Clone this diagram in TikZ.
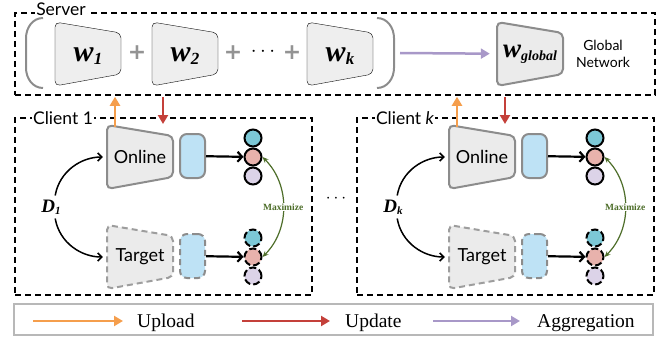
\documentclass[tikz,border=0pt]{standalone}
\usepackage{fontspec}
\setmainfont{Liberation Serif}
\setsansfont{Lato}
\newfontfamily\plusfont{DejaVu Sans}
\usetikzlibrary{calc, arrows.meta}

\definecolor{upcol}{HTML}{F59E4C}
\definecolor{dncol}{HTML}{C4403A}
\definecolor{aggcol}{HTML}{A898C8}
\definecolor{maxgreen}{HTML}{4E6E2A}
\definecolor{tealc}{HTML}{7CC8D6}
\definecolor{pinkc}{HTML}{E8B2AC}
\definecolor{lavc}{HTML}{DCD3E8}
\definecolor{projblue}{HTML}{BEE2F5}
\definecolor{netfill}{HTML}{EBEBEB}
\definecolor{wgray}{HTML}{EEEEEE}
\definecolor{boxgray}{HTML}{8C8C8C}
\definecolor{lgdgray}{HTML}{B8B8B8}

\tikzstyle{serverbox} = [rectangle, draw=black, line width=1.5pt, dash pattern=on 6pt off 4pt, minimum width=640pt, minimum height=82pt]
\tikzstyle{clientbox} = [rectangle, draw=black, line width=1.5pt, dash pattern=on 6pt off 4pt, minimum width=297pt, minimum height=177pt]
\tikzstyle{boxlabel} = [fill=white, inner sep=1.5pt, font=\sffamily\fontsize{17.5}{20}\selectfont]
\tikzstyle{encnode} = [minimum width=66pt, minimum height=64pt, inner sep=0pt, font=\sffamily\fontsize{18}{20}\selectfont]
\tikzstyle{encline} = [fill=netfill, draw=boxgray, line width=2pt, rounded corners=5pt]
\tikzstyle{tgtline} = [fill=netfill, draw=boxgray!85, line width=2pt, dash pattern=on 6pt off 4pt, rounded corners=5pt]
\tikzstyle{wfill} = [fill=wgray, rounded corners=5pt]
\tikzstyle{projbox} = [rectangle, rounded corners=7pt, minimum width=25pt, minimum height=44pt, fill=projblue, draw=boxgray, line width=2pt]
\tikzstyle{embed} = [circle, minimum size=17pt, inner sep=0pt, draw=black, line width=2pt]
\tikzstyle{bracket} = [draw=boxgray, line width=2pt]
\tikzstyle{plus} = [text=gray!85, font=\plusfont\bfseries\fontsize{22}{22}\selectfont]
\tikzstyle{netlabel} = [align=center, font=\sffamily\fontsize{14}{17}\selectfont]
\tikzstyle{legtext} = [anchor=base west, inner sep=0pt, font=\fontsize{19.5}{20}\selectfont]
\tikzstyle{arrow} = [line width=2.2pt, -{Straight Barb[length=4.5pt,width=10pt]}]
\tikzstyle{darrow} = [line width=1.5pt, -{Straight Barb[length=4pt,width=8pt]}]
\tikzstyle{uparrow} = [upcol, line width=2.5pt, -{Triangle[length=9pt,width=10pt]}]
\tikzstyle{dnarrow} = [dncol, line width=2.5pt, -{Triangle[length=9pt,width=10pt]}]
\tikzstyle{aggarrow} = [aggcol, line width=2.5pt, -{Triangle[length=9pt,width=10pt]}]
\tikzstyle{maxarrow} = [maxgreen, line width=1.2pt, {Stealth[length=6pt,width=5pt]}-{Stealth[length=6pt,width=5pt]}]
\tikzstyle{maxlabel} = [fill=white, inner sep=1pt, text=maxgreen, font=\bfseries\fontsize{9.5}{10}\selectfont]

% trapezoid of a network, #1 style, #2 centre
\newcommand{\netshape}[2]{%
  \draw[#1] ($(#2)+(-33,-32)$) -- ($(#2)+(33,-21)$) -- ($(#2)+(33,20)$) -- ($(#2)+(-33,32)$) -- cycle;}
% bold italic symbol with subscript
\newcommand{\wlabel}[4]{{\rmfamily\bfseries\itshape\fontsize{#1}{#1}\selectfont #3\raisebox{-0.12em}{\fontsize{#2}{#2}\selectfont #4}}}

\begin{document}
\begin{tikzpicture}[x=1pt, y=-1pt]
    \useasboundingbox (0,0) rectangle (661,337);

    % Server
    \node (srv) [serverbox] at (335,54) {};
    \node (srvlbl) [boxlabel] at (61,9) {Server};
    \draw[bracket] (43,18) to[out=180,in=90] (26,38) -- (26,68) to[out=-90,in=180] (43,88);
    \draw[bracket] (377,18) to[out=0,in=90] (394,38) -- (394,68) to[out=-90,in=0] (377,88);

    \foreach \nm/\x/\s in {wa/88/1, wb/185/2, wk/340/k} {
        \netshape{wfill}{\x,54}
        \node (\nm) at (\x,56) {\wlabel{30}{17}{w}{\s}};
    }
    \node (pa) [plus] at (137,53) {+};
    \node (pb) [plus] at (233,53) {+};
    \node (pc) [plus] at (292,53) {+};
    \node (dts) at (263,52) {\fontsize{20}{20}\selectfont$\cdots$};

    % Global network
    \coordinate (agg) at (400,53);
    \netshape{encline}{530,54}
    \node (wg) [encnode] at (530,54) {\wlabel{27}{14}{w}{global}};
    \node (glob) [netlabel] at (603,54) {Global\\Network};
    \draw[aggarrow, shorten >=7pt] (agg) -- (wg);

    % Clients
    \foreach \i/\dx/\lbl in {1/0/1, k/342/{\itshape k}} {
    \begin{scope}[xshift=\dx]
        \node (cl\i) [clientbox] at (163.5,206.5) {};
        \node (cn\i) [boxlabel] at (63,118) {Client \lbl};

        \netshape{encline}{140,157}
        \node (on\i) [encnode] at (140,157) {Online};
        \netshape{tgtline}{140,257}
        \node (tg\i) [encnode] at (140,257) {Target};

        \node (po\i) [projbox] at (192.5,156) {};
        \node (pt\i) [projbox, dash pattern=on 6pt off 4pt] at (192.5,256) {};

        \node (ea\i) [embed, fill=tealc] at (253,138) {};
        \node (eb\i) [embed, fill=pinkc] at (253,157) {};
        \node (ec\i) [embed, fill=lavc] at (253,176) {};
        \node (fa\i) [embed, fill=tealc, dash pattern=on 7pt off 3pt] at (253,238) {};
        \node (fb\i) [embed, fill=pinkc, dash pattern=on 7pt off 3pt] at (253,257) {};
        \node (fc\i) [embed, fill=lavc, dash pattern=on 7pt off 3pt] at (253,276) {};

        \draw[arrow] (po\i) -- (eb\i);
        \draw[arrow] (pt\i) -- (fb\i);

        \node (d\i) [inner sep=4pt] at (51,207) {\wlabel{19}{11}{D}{\i}};
        \draw[darrow, shorten >=4pt] (d\i.70) to[out=80,in=180] (on\i.west);
        \draw[darrow, shorten >=4pt] (d\i.-70) to[out=-80,in=180] (tg\i.west);

        \draw[maxarrow] (eb\i.east) to[bend left=45] node[maxlabel] {Maximize} (fb\i.east);

        \coordinate (up\i) at (115,127);
        \coordinate (dn\i) at (163,124);
        \draw[uparrow, shorten >=1pt] (up\i) -- (up\i |- srv.south);
        \draw[dnarrow, shorten <=1pt] (dn\i |- srv.south) -- (dn\i);
    \end{scope}
    }
    \node (more) at (336,199) {\fontsize{16}{16}\selectfont$\cdots$};

    % Legend
    \node (lgd) [draw=lgdgray, line width=2pt, minimum width=639pt, minimum height=31pt] at (333.5,319.5) {};
    \coordinate (la) at (33,321);
    \coordinate (lb) at (242,321);
    \coordinate (lc) at (433,321);
    \node (lup) [legtext] at (137,327) {Upload};
    \node (ldn) [legtext] at (345,327) {Update};
    \node (lag) [legtext] at (537,327) {Aggregation};
    \draw[uparrow, shorten >=14pt] (la) -- (la -| lup.west);
    \draw[dnarrow, shorten >=15pt] (lb) -- (lb -| ldn.west);
    \draw[aggarrow, shorten >=17pt] (lc) -- (lc -| lag.west);
\end{tikzpicture}
\end{document}
